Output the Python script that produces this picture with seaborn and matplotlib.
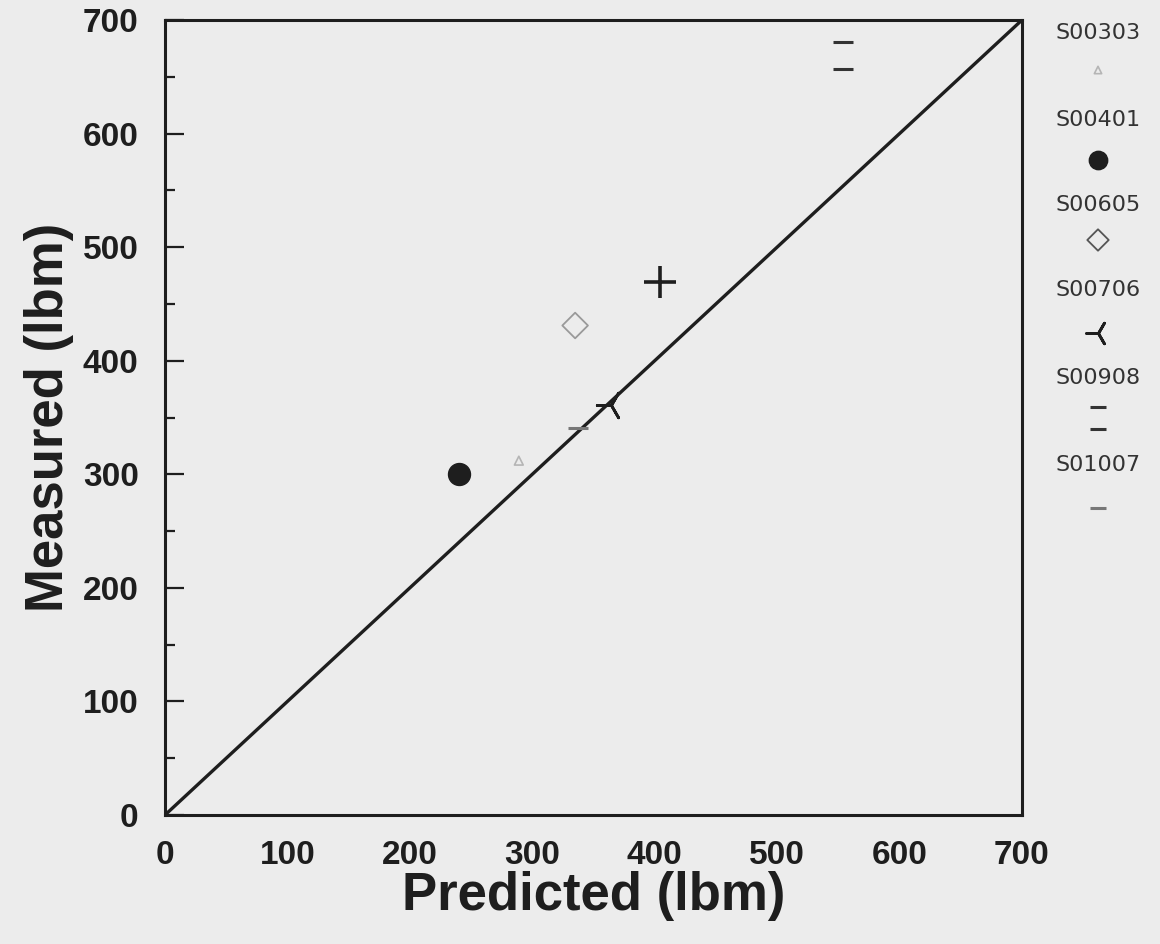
import matplotlib
matplotlib.use('Agg')
import matplotlib.pyplot as plt
from matplotlib.path import Path
import seaborn as sns
import pandas as pd

# test runs and their (predicted, measured) mass, lbm
runs = ['S00303', 'S00401', 'S00605', 'S00706', 'S00908', 'S01007']
predicted = [289, 240, 335, 364, 554, 337]
measured = [312, 300, 431, 361, 669, 341]

# the "+" point in the plot has no entry in the key
extra_pred = [404]
extra_meas = [469]

# 1:1 line
line_x = [0, 700]
line_y = [0, 700]

ticks = [0, 100, 200, 300, 400, 500, 600, 700]

bg = '#ececec'
ink = '#1e1e1e'

# two stacked dashes for S00908
eq_mark = Path([(-0.74, 1), (0.74, 1), (-0.74, -1), (0.74, -1)],
               [Path.MOVETO, Path.LINETO, Path.MOVETO, Path.LINETO])

styles = {
    'S00303': dict(marker='^', s=40, facecolor='none', edgecolor='#b5b5b5', linewidth=1.2),
    'S00401': dict(marker='o', s=250, facecolor=ink, edgecolor=ink, linewidth=1),
    'S00605': dict(marker='D', s=170, facecolor='none', edgecolor='#9a9a9a', linewidth=1.3),
    'S00706': dict(marker=(3, 2, 90), s=420, facecolor=ink, edgecolor='#333333', linewidth=2),
    'S00908': dict(marker=eq_mark, s=380, facecolor='none', edgecolor='#333333', linewidth=2.2),
    'S01007': dict(marker='_', s=200, color='#777777', linewidth=2.2),
}

sns.set_theme(style='ticks')
plt.rcParams['font.family'] = ['Liberation Sans', 'DejaVu Sans']

df = pd.DataFrame({'run': runs, 'predicted': predicted, 'measured': measured})

fig = plt.figure(figsize=(11.6, 9.44), dpi=100, facecolor=bg)
ax = fig.add_axes([165 / 1160, 1 - 815 / 944, (1022 - 165) / 1160, (815 - 20) / 944])
ax.set_facecolor(bg)

sns.lineplot(x=line_x, y=line_y, ax=ax, color=ink, linewidth=2.4)

for r in runs:
    sub = df[df['run'] == r]
    sns.scatterplot(data=sub, x='predicted', y='measured', ax=ax, zorder=3,
                    legend=False, **styles[r])

sns.scatterplot(x=extra_pred, y=extra_meas, ax=ax, marker='+', s=520,
                color=ink, linewidth=2.6, zorder=3, legend=False)

ax.set_xlim(0, 700)
ax.set_ylim(0, 700)
ax.set_xticks(ticks)
ax.set_yticks(ticks)
ax.set_yticks(range(50, 700, 100), minor=True)
ax.tick_params(axis='y', which='major', direction='in', length=14, width=1.6,
               color=ink, pad=19, labelsize=24, labelcolor=ink)
ax.tick_params(axis='y', which='minor', direction='in', length=7, width=1.6, color=ink)
ax.tick_params(axis='x', which='major', length=0, pad=18, labelsize=24, labelcolor=ink)
for lab in ax.get_xticklabels() + ax.get_yticklabels():
    lab.set_fontweight('bold')
for sp in ax.spines.values():
    sp.set_linewidth(2.2)
    sp.set_color(ink)

ax.set_xlabel('Predicted (lbm)', fontsize=38, fontweight='bold', color=ink, labelpad=0)
ax.set_ylabel('Measured (lbm)', fontsize=38, fontweight='bold', color=ink, labelpad=6)

# key on the right: name above its marker
key_x = 1098 / 1160
text_y = [33, 120, 205, 290, 378, 465]
mark_y = [70, 160, 240, 333, 418, 508]
for r, ty, my in zip(runs, text_y, mark_y):
    fig.text(key_x, 1 - ty / 944, r, ha='center', va='center', fontsize=16,
             family=['DejaVu Sans'], color='#333333')
    st = dict(styles[r])
    st['s'] = st['s'] * 0.7
    if r == 'S00605':
        st['edgecolor'] = '#555555'
    ax.scatter([key_x], [1 - my / 944], transform=fig.transFigure,
               clip_on=False, zorder=4, **st)

fig.savefig('out.png', dpi=100, facecolor=bg)
